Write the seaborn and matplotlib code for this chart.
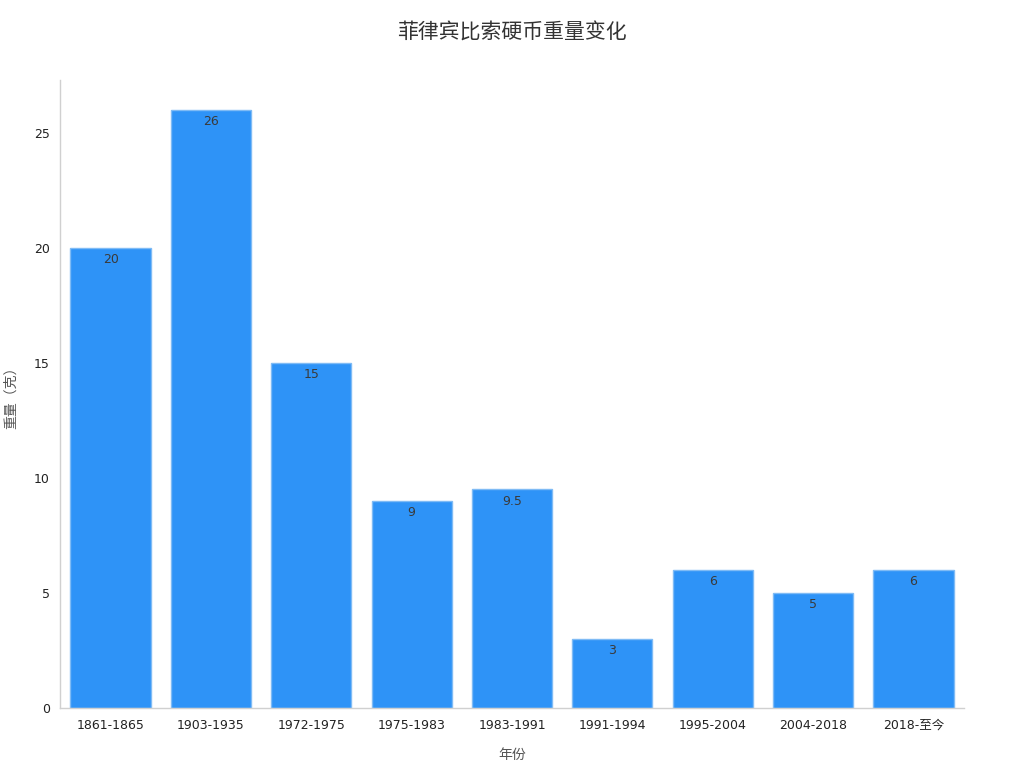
import matplotlib
matplotlib.use("Agg")
import matplotlib.pyplot as plt
import seaborn as sns
import pandas as pd

# 数据
periods = ["1861-1865", "1903-1935", "1972-1975", "1975-1983", "1983-1991",
           "1991-1994", "1995-2004", "2004-2018", "2018-至今"]
weights = [20, 26, 15, 9, 9.5, 3, 6, 5, 6]
value_labels = ["20", "26", "15", "9", "9.5", "3", "6", "5", "6"]

sns.set_style("white")
plt.rcParams["font.family"] = ["DejaVu Sans", "Noto Sans CJK SC"]

df = pd.DataFrame({"年份": periods, "重量": weights})

fig, ax = plt.subplots(figsize=(10.24, 7.68), dpi=100)

sns.barplot(
    data=df,
    x="年份",
    y="重量",
    color="#2E93F7",
    saturation=1,
    width=0.8,
    edgecolor="#7FBBF5",
    linewidth=1,
    ax=ax,
)

ax.bar_label(ax.containers[0], labels=value_labels, padding=-13,
             fontsize=9, color="#3a3a3a")

ax.set_title("菲律宾比索硬币重量变化", fontsize=15, color="#333333", pad=30)
ax.set_xlabel("年份", fontsize=10, color="#555555", labelpad=12)
ax.set_ylabel("重量（克）", fontsize=10, color="#555555", labelpad=12)

ax.set_yticks([0, 5, 10, 15, 20, 25])
ax.tick_params(axis="both", labelsize=9, labelcolor="#222222",
               color="#888888", length=4, width=0.8)

sns.despine(ax=ax)
for side in ["left", "bottom"]:
    ax.spines[side].set_color("#d0d0d0")
    ax.spines[side].set_linewidth(1)

fig.subplots_adjust(left=0.059, right=0.941, top=0.896, bottom=0.078)

plt.savefig("out.png", dpi=100)
plt.close()
